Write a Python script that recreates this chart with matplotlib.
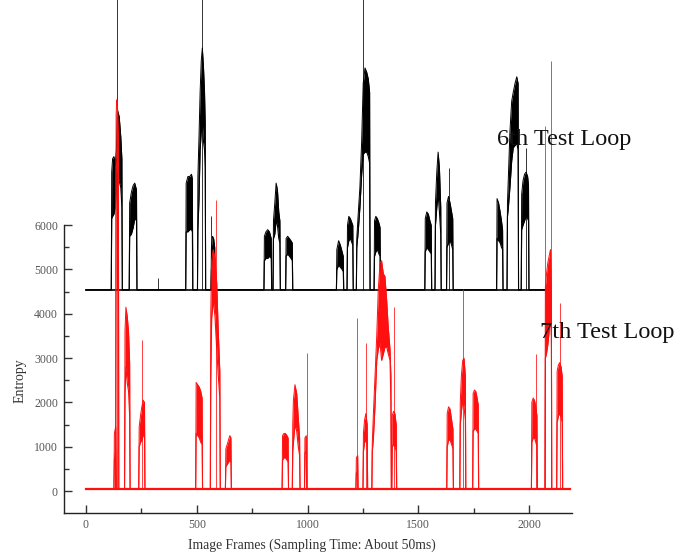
import matplotlib
matplotlib.use("Agg")
import matplotlib.pyplot as plt
from matplotlib.ticker import FixedLocator
import numpy as np

plt.rcParams['font.family'] = ['Liberation Serif', 'DejaVu Serif']

# ---------------- data ----------------
x_ticks = [0, 500, 1000, 1500, 2000]
y_ticks = [0, 1000, 2000, 3000, 4000, 5000, 6000]
x_label = "Image Frames (Sampling Time: About 50ms)"
y_label = "Entropy"
label_6th = "6th Test Loop"
label_7th = "7th Test Loop"

# 6th test loop (black): baseline and bursts (frames, lower envelope, upper envelope)
black_base = 4540
black_range = [0, 2094]
black_frames = [
    [116, 120, 126, 132, 137, 142, 150, 157, 162],
    [197, 205, 213, 220, 228],
    [452, 460, 468, 476, 480],
    [505, 510, 515, 520, 525, 530, 535, 538],
    [566, 571, 576, 581],
    [805, 812, 820, 828, 836],
    [846, 852, 858, 864, 870, 875],
    [903, 910, 918, 925, 931],
    [1132, 1140, 1148, 1156, 1161],
    [1180, 1186, 1193, 1200, 1204],
    [1222, 1229, 1236, 1244, 1251, 1259, 1267, 1274, 1280],
    [1302, 1308, 1315, 1322, 1327],
    [1531, 1538, 1545, 1552, 1558],
    [1577, 1583, 1589, 1595, 1601],
    [1629, 1636, 1643, 1650, 1655],
    [1855, 1862, 1869, 1875, 1880],
    [1902, 1906, 1913, 1921, 1928, 1936, 1944, 1950],
    [1966, 1972, 1979, 1986, 1993, 1997],
]
black_high = [
    [7200, 7500, 7550, 7400, 7700, 8600, 8450, 8000, 7500],
    [6500, 6750, 6900, 6950, 6800],
    [6950, 7100, 7100, 7150, 7050],
    [7100, 8000, 9000, 9700, 10000, 9600, 9000, 8300],
    [5500, 5750, 5700, 5500],
    [5750, 5850, 5900, 5850, 5700],
    [6100, 6500, 6950, 6800, 6300, 6100],
    [5700, 5750, 5700, 5650, 5600],
    [5450, 5650, 5550, 5400, 5300],
    [6000, 6200, 6150, 6050, 6000],
    [5700, 6300, 6850, 7900, 9200, 9550, 9450, 9300, 9000],
    [6100, 6200, 6150, 6050, 5950],
    [6150, 6300, 6250, 6100, 6000],
    [6500, 7200, 7650, 7300, 6400],
    [6500, 6650, 6500, 6300, 6150],
    [6600, 6500, 6300, 6100, 5900],
    [6500, 7100, 8100, 8800, 9000, 9200, 9350, 9200],
    [6700, 7000, 7150, 7200, 7100, 6900],
]
black_low = [
    [6150, 6200, 6250, 6400, 6800, 7150, 7000, 6850, 6400],
    [5750, 5800, 5950, 6150, 6100],
    [5850, 5850, 5900, 5900, 5850],
    [5900, 6600, 7700, 8100, 8300, 7900, 7700, 7300],
    [5000, 5150, 5250, 5100],
    [5200, 5250, 5250, 5300, 5250],
    [5700, 5800, 6100, 6000, 5700, 5600],
    [5300, 5350, 5300, 5250, 5200],
    [5000, 5100, 5050, 5000, 4950],
    [5500, 5650, 5700, 5600, 5550],
    [5500, 5900, 6400, 7150, 7600, 7650, 7650, 7550, 7400],
    [5300, 5400, 5450, 5350, 5300],
    [5400, 5500, 5450, 5400, 5350],
    [6000, 6400, 6700, 6300, 5800],
    [5500, 5600, 5650, 5550, 5450],
    [5700, 5650, 5600, 5500, 5450],
    [6200, 6400, 6850, 7450, 7750, 7800, 7850, 7700],
    [5900, 6000, 6100, 6200, 6150, 6100],
]
black_spike_frames = [138, 324, 524, 564, 1251, 1640, 1986]
black_spike_values = [12000, 4800, 12000, 6200, 12000, 7300, 7750]

# 7th test loop (red)
red_base = 40
red_range = [0, 2185]
red_frames = [
    [128, 134],
    [136, 139, 142, 146],
    [176, 180, 186, 192, 197],
    [240, 246, 252, 258, 264],
    [497, 504, 511, 518, 524],
    [563, 567, 574, 582, 590, 597, 604],
    [631, 637, 643, 649, 654],
    [887, 893, 900, 907, 912],
    [933, 936, 943, 951, 958, 964],
    [988, 994],
    [1220, 1226],
    [1252, 1257, 1263, 1269],
    [1292, 1297, 1304, 1312, 1319, 1327, 1334, 1342, 1349, 1357, 1364, 1372, 1376],
    [1382, 1388, 1394, 1400],
    [1630, 1636, 1643, 1650, 1656],
    [1689, 1694, 1700, 1706, 1712],
    [1747, 1753, 1759, 1765, 1770],
    [2012, 2018, 2024, 2030, 2035],
    [2073, 2078, 2084, 2090, 2096, 2100],
    [2126, 2132, 2138, 2144, 2149],
]
red_high = [
    [1300, 1450],
    [8500, 8830, 8700, 8000],
    [3600, 4150, 3950, 3600, 2900],
    [1450, 1700, 1900, 2050, 2000],
    [2450, 2400, 2350, 2250, 2100],
    [4000, 5200, 5450, 5250, 4700, 3600, 2700],
    [950, 1050, 1150, 1250, 1200],
    [1250, 1300, 1300, 1250, 1200],
    [1500, 2050, 2400, 2200, 1650, 1200],
    [1200, 1250],
    [750, 800],
    [1300, 1600, 1750, 1500],
    [1100, 1750, 2550, 3500, 4550, 5150, 5200, 4900, 4850, 4300, 3700, 3200, 2600],
    [1700, 1800, 1750, 1500],
    [1750, 1900, 1850, 1600, 1400],
    [2000, 2600, 2950, 3000, 2600],
    [2200, 2280, 2250, 2100, 1950],
    [2000, 2100, 2050, 1900, 1700],
    [4600, 4900, 5150, 5300, 5450, 4500],
    [2700, 2850, 2900, 2800, 2600],
]
red_low = [
    [700, 900],
    [7300, 7400, 7300, 7100],
    [2200, 2800, 2450, 2250, 1700],
    [1000, 1100, 1150, 1250, 1300],
    [1300, 1250, 1200, 1100, 1050],
    [2500, 3900, 4300, 3950, 3200, 2600, 2100],
    [550, 600, 650, 700, 650],
    [700, 750, 750, 700, 650],
    [900, 1100, 1500, 1350, 1000, 800],
    [850, 900],
    [400, 450],
    [900, 1100, 1150, 1000],
    [900, 1200, 1900, 2950, 3200, 3350, 2950, 3100, 3250, 3250, 3100, 2950, 2000],
    [1000, 1050, 1000, 900],
    [1000, 1150, 1150, 1050, 950],
    [1500, 1800, 2050, 1900, 1600],
    [1350, 1400, 1400, 1350, 1300],
    [1100, 1200, 1200, 1100, 1000],
    [3000, 3100, 3300, 3600, 3900, 3500],
    [1550, 1700, 1750, 1650, 1550],
]
red_spike_frames = [139, 254, 587, 996, 1224, 1262, 1390, 1703, 2031, 2071, 2098, 2139]
red_spike_values = [8830, 3400, 6570, 3120, 3900, 3350, 4150, 4550, 3100, 8250, 9700, 4250]


def build_series(base, rng, frames, low, high, ramp=2):
    xs, lo, hi = [rng[0]], [base], [base]
    for f, l, h in zip(frames, low, high):
        xs.append(f[0] - ramp); lo.append(base); hi.append(base)
        xs.extend(f); lo.extend(l); hi.extend(h)
        xs.append(f[-1] + ramp); lo.append(base); hi.append(base)
    xs.append(rng[1]); lo.append(base); hi.append(base)
    return np.array(xs, float), np.array(lo, float), np.array(hi, float)


# ---------------- figure ----------------
fig = plt.figure(figsize=(6.91, 5.60), dpi=100)
ax = fig.add_axes([0.0919, 0.0834, 0.7355, 0.9166])

xmin, xmax = -101.5, 2192
ymin, ymax = -503, 11083
ax.set_xlim(xmin, xmax)
ax.set_ylim(ymin, ymax)

for base, rng, fr, lo_, hi_, spf, spv, col, z, blw in [
    (black_base, black_range, black_frames, black_low, black_high,
     black_spike_frames, black_spike_values, '#000000', 2, 1.2),
    (red_base, red_range, red_frames, red_low, red_high,
     red_spike_frames, red_spike_values, '#ff1010', 3, 1.6),
]:
    xs, lo, hi = build_series(base, rng, fr, lo_, hi_)
    ax.fill_between(xs, lo, hi, color=col, lw=0, zorder=z)
    ax.plot(xs, hi, color=col, lw=0.7, zorder=z)
    ax.plot(xs, lo, color=col, lw=0.8, zorder=z)
    ax.plot(rng, [base, base], color=col, lw=blw, zorder=z)
    ax.vlines(spf, base, spv, colors=col, lw=0.7, zorder=z, alpha=0.8)

# spines
for s in ['top', 'right']:
    ax.spines[s].set_visible(False)
for s in ['left', 'bottom']:
    ax.spines[s].set_color('#222222')
    ax.spines[s].set_linewidth(1.0)
ax.spines['left'].set_bounds(ymin, 6000)

ax.xaxis.set_major_locator(FixedLocator(x_ticks))
ax.xaxis.set_minor_locator(FixedLocator([250, 750, 1250, 1750]))
ax.yaxis.set_major_locator(FixedLocator(y_ticks))
ax.yaxis.set_minor_locator(FixedLocator([500, 1500, 2500, 3500, 4500, 5500]))
ax.set_xticklabels([str(v) for v in x_ticks])
ax.set_yticklabels([str(v) for v in y_ticks])

ax.tick_params(axis='both', which='major', direction='in', length=6, width=1.0,
               colors='#333333', labelsize=8.5, labelcolor='#555555')
ax.tick_params(axis='both', which='minor', direction='in', length=3.5, width=1.0,
               colors='#333333')
ax.tick_params(axis='x', which='major', pad=4)
ax.tick_params(axis='y', which='major', pad=4)

fig.text(311.5 / 691, 1 - 545 / 560, x_label, ha='center', va='center',
         fontsize=9.8, color='#333333')
fig.text(20 / 691, 1 - 381 / 560, y_label, ha='center', va='center',
         rotation=90, fontsize=10, color='#333333')

ax.text(1855, 7923, label_6th, ha='left', va='center', fontsize=17.5,
        color='#111111', clip_on=False, zorder=5)
ax.text(2049, 3589, label_7th, ha='left', va='center', fontsize=17.5,
        color='#111111', clip_on=False, zorder=5)

fig.savefig('out.png', dpi=100)
